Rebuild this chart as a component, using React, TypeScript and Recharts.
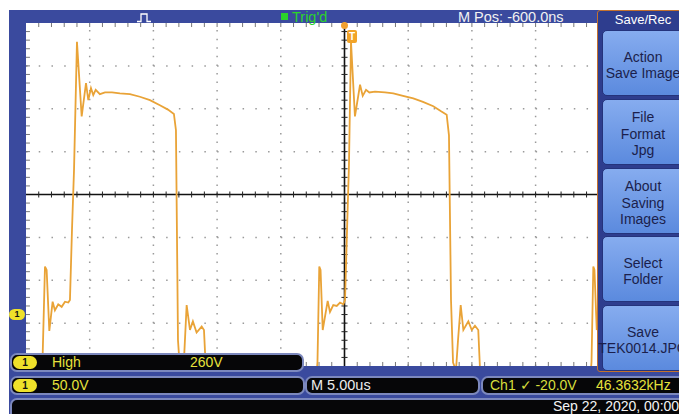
import React from "react";
import { LineChart, Line, XAxis, YAxis, ReferenceLine } from "recharts";

// Ch1 trace, time in us (5 us/div, trigger at 0) and volts (50 V/div)
const TIME_US = [
  -25, -23.75, -23.51, -23.38, -23.17, -22.91, -22.73, -22.47, -22.2, -21.94, -21.68, -21.55,
  -21.39, -21.23, -21.0,
  -20.63, -20.29, -20.11, -19.9, -19.72, -19.53, -19.2,
  -18.8, -18.25, -17.63, -16.84, -16.06, -15.27, -14.49, -13.86, -13.39,
  -13.23, -13.07, -12.91, -12.6, -12.39, -12.13, -11.9, -11.61, -11.21, -11.03, -10.88,
  -2.24,
  -2.12, -1.98, -1.88, -1.71, -1.32, -1.14, -0.88, -0.61, -0.35, -0.09, 0.04,
  0.2, 0.35, 0.51,
  0.82, 1.22, 1.43, 1.69, 1.95,
  2.39, 3.18, 3.83, 4.59, 5.4, 6.16, 6.97, 7.58, 8.02,
  8.2, 8.36, 8.52, 8.75, 8.91, 9.12, 9.33, 9.72, 9.99, 10.24, 10.5, 10.64,
  19.27,
  19.39, 19.53, 19.62, 19.8, 20.19, 20.5, 20.9,
];
const CH1_VOLTS = [
  -80, -80, 56, 52, -19, 15, 5, 12, 9, 15, 14, 17,
  99, 169, 318,
  231, 270, 250, 264, 256, 262, 257,
  259, 259, 258, 257, 254, 250, 244, 239, 234,
  215, -30, -65, -53, 11, -18, -8, -21, -14, -18, -65,
  -80,
  -55, 56, 52, -18, 16, 3, 11, 10, 14, 12, 17,
  99, 174, 318,
  231, 268, 255, 262, 259,
  260, 259, 258, 255, 252, 248, 243, 237, 233,
  209, 17, -56, -65, -30, 11, -18, -8, -18, -13, -18, -65,
  -80,
  -55, 56, 52, -18, 16, 5, 12,
];

const T_DOMAIN = [-25, 25];
const V_DOMAIN = [-60, 340];
const T_MAJOR = [-20, -15, -10, -5, 5, 10, 15, 20];
const V_MAJOR = [-10, 40, 90, 190, 240, 290];
const T_MINOR = Array.from({ length: 49 }, (_, i) => -24 + i);
const V_MINOR = Array.from({ length: 39 }, (_, i) => -50 + i * 10);

const MENU_TITLE = "Save/Rec";
const MENU_ITEMS = [
  ["Action", "Save Image"],
  ["File", "Format", "Jpg"],
  ["About", "Saving", "Images"],
  ["Select", "Folder"],
  ["Save", "TEK0014.JPG"],
];
const MENU_TOPS = [30, 99, 168, 236, 305];

const data = TIME_US.map((t, i) => ({ t, v: CH1_VOLTS[i] }));

const BLUE = "#3a4a9e";
const TRACE = "#e9a337";
const YELLOW = "#e6e23c";
const FONT = '"Liberation Sans", Arial, sans-serif';

function Pill({ left, top }: { left: number; top: number }) {
  return (
    <div
      style={{
        position: "absolute", left, top, width: 24, height: 13, borderRadius: 7,
        background: "#efe12a", color: "#111", fontSize: 10, fontWeight: 700,
        textAlign: "center", lineHeight: "13px",
      }}
    >
      1
    </div>
  );
}

function Bar({ left, top, width, height }: { left: number; top: number; width: number; height: number }) {
  return (
    <div
      style={{
        position: "absolute", left, top, width, height, boxSizing: "border-box",
        background: "#060608", border: "2px solid #7c88bd", borderRadius: 7,
      }}
    />
  );
}

function Txt({ left, top, color, size = 14, children }: any) {
  return (
    <div style={{ position: "absolute", left, top, color, fontSize: size, lineHeight: "19px", whiteSpace: "nowrap" }}>
      {children}
    </div>
  );
}

function Scope() {
  const dots = "#9a9a9a";
  return (
    <LineChart width={637} height={343} data={data} margin={{ top: 0, right: 0, bottom: 0, left: 0 }}>
      <XAxis dataKey="t" type="number" domain={T_DOMAIN} allowDataOverflow hide />
      <YAxis type="number" domain={V_DOMAIN} allowDataOverflow hide />
      {T_MAJOR.map((t) => (
        <ReferenceLine key={`gx${t}`} x={t} stroke={dots} strokeWidth={1.5} strokeDasharray="1.5 7.075" />
      ))}
      {V_MAJOR.map((v) => (
        <ReferenceLine key={`gy${v}`} y={v} stroke={dots} strokeWidth={1.5} strokeDasharray="1.5 11.24" />
      ))}
      {T_MINOR.map((t) => (
        <ReferenceLine key={`tt${t}`} segment={[{ x: t, y: 340 }, { x: t, y: 335.3 }]} stroke="#777" />
      ))}
      {T_MINOR.map((t) => (
        <ReferenceLine key={`tb${t}`} segment={[{ x: t, y: -60 }, { x: t, y: -55.3 }]} stroke="#777" />
      ))}
      {V_MINOR.map((v) => (
        <ReferenceLine key={`tl${v}`} segment={[{ x: -25, y: v }, { x: -24.69, y: v }]} stroke="#777" />
      ))}
      <ReferenceLine x={0} stroke="#111" strokeWidth={1.6} />
      <ReferenceLine y={140} stroke="#111" strokeWidth={1.6} />
      {T_MINOR.map((t) => (
        <ReferenceLine key={`cx${t}`} segment={[{ x: t, y: 136.5 }, { x: t, y: 143.5 }]} stroke="#222" />
      ))}
      {V_MINOR.map((v) => (
        <ReferenceLine key={`cy${v}`} segment={[{ x: -0.24, y: v }, { x: 0.24, y: v }]} stroke="#222" />
      ))}
      <Line
        type="linear"
        dataKey="v"
        stroke={TRACE}
        strokeWidth={1.8}
        dot={false}
        isAnimationActive={false}
      />
    </LineChart>
  );
}

export default function App() {
  return (
    <div
      style={{
        position: "absolute", left: 0, top: 0, width: 679, height: 414, overflow: "hidden",
        background: "#fff", fontFamily: FONT,
      }}
    >
      <div style={{ position: "absolute", left: 9, top: 10, right: 0, bottom: 0, background: BLUE }} />
      <div style={{ position: "absolute", left: 26, top: 23, width: 637, height: 343, background: "#fff" }}>
        <Scope />
      </div>

      {/* top status line */}
      <svg style={{ position: "absolute", left: 137, top: 13 }} width={14} height={10}>
        <polyline points="0,8.5 4,8.5 4,1 10,1 10,8.5 14,8.5" fill="none" stroke="#fff" strokeWidth={1.3} />
      </svg>
      <div style={{ position: "absolute", left: 281, top: 13, width: 7, height: 7, background: "#2bd42b" }} />
      <Txt left={292} top={8} color="#2bd42b" size={14.5}>Trig'd</Txt>
      <Txt left={458} top={8} color="#f2f2f2" size={14.5}>M Pos: -600.0ns</Txt>

      {/* trigger markers */}
      <div style={{ position: "absolute", left: 341, top: 22, width: 7, height: 7, borderRadius: 4, background: "#f0a030" }} />
      <div
        style={{
          position: "absolute", left: 347, top: 30, width: 10, height: 13, borderRadius: 2,
          background: "#f2a428", color: "#fff", fontSize: 10, fontWeight: 700, textAlign: "center", lineHeight: "13px",
        }}
      >
        T
      </div>

      {/* ground marker */}
      <div
        style={{
          position: "absolute", left: 9, top: 309, width: 16, height: 11, borderRadius: 6,
          background: "#efe12a", color: "#111", fontSize: 9, fontWeight: 700, textAlign: "center", lineHeight: "11px",
        }}
      >
        1
      </div>

      {/* side menu */}
      <div
        style={{
          position: "absolute", left: 597, top: 10, width: 90, height: 362, boxSizing: "border-box",
          border: "1.5px solid #c4722e", background: "#2e3d8e", borderRadius: 3,
        }}
      />
      <div style={{ position: "absolute", left: 602, top: 10, width: 82, textAlign: "center", color: "#fff", fontSize: 13, lineHeight: "19px" }}>
        {MENU_TITLE}
      </div>
      {MENU_ITEMS.map((lines, i) => (
        <div
          key={i}
          style={{
            position: "absolute", left: 602, top: MENU_TOPS[i], width: 82, height: 66, boxSizing: "border-box",
            borderRadius: 5, border: "1px solid #24337c",
            background: "linear-gradient(#86acef, #5b8ade)", color: "#1b1f4c",
            display: "flex", flexDirection: "column", justifyContent: "center", alignItems: "center",
            fontSize: 14, lineHeight: "16.5px", whiteSpace: "nowrap", paddingTop: 4,
          }}
        >
          {lines.map((l) => (
            <div key={l}>{l}</div>
          ))}
        </div>
      ))}

      {/* readouts */}
      <Bar left={10} top={353} width={294} height={19} />
      <Pill left={13} top={356} />
      <Txt left={52} top={353} color={YELLOW}>High</Txt>
      <Txt left={190} top={353} color={YELLOW}>260V</Txt>

      <Bar left={10} top={376} width={295} height={19} />
      <Pill left={13} top={379} />
      <Txt left={52} top={376} color={YELLOW}>50.0V</Txt>
      <Bar left={305} top={376} width={175} height={19} />
      <Txt left={311} top={376} color="#ececec" size={14.5}>M 5.00us</Txt>
      <Bar left={481} top={376} width={210} height={19} />
      <Txt left={490} top={376} color="#d6df3c">Ch1 ✓ -20.0V</Txt>
      <Txt left={596} top={376} color={YELLOW}>46.3632kHz</Txt>

      <Bar left={10} top={398} width={690} height={22} />
      <Txt left={553} top={397} color="#f4f4f4">Sep 22, 2020, 00:00</Txt>
    </div>
  );
}
